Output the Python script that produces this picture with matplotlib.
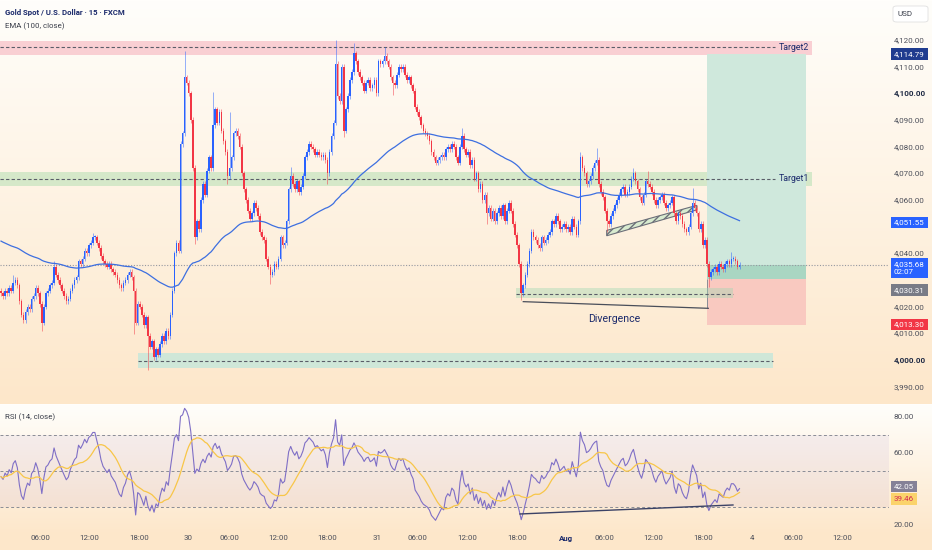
import numpy as np
import pandas as pd
import matplotlib
matplotlib.use("Agg")
import matplotlib.pyplot as plt
import matplotlib.transforms as mtransforms
from matplotlib.patches import Rectangle, Polygon, FancyBboxPatch

plt.rcParams['font.family'] = ['Roboto', 'DejaVu Sans']

# ---- price data (15 min closes) ----
closes = [
    4025, 4024, 4026, 4025, 4027, 4026, 4029, 4030, 4028, 4022,
    4017, 4015, 4018, 4020, 4019, 4023, 4024, 4027, 4025, 4021,
    4014, 4020, 4025, 4026, 4028, 4029, 4035, 4032, 4030, 4028,
    4026, 4024, 4022, 4023, 4026, 4028, 4030, 4031, 4037, 4036,
    4038, 4041, 4040, 4043, 4044, 4046, 4046, 4044, 4042, 4039,
    4037, 4036, 4035, 4036, 4034, 4033, 4032, 4030, 4028, 4027,
    4029, 4030, 4032, 4033, 4031, 4026, 4014, 4021, 4020, 4017,
    4013, 4016, 4009, 4005, 4007, 4001, 4004, 4002, 4006, 4009,
    4007, 4011, 4009, 4017, 4026, 4040, 4044, 4041, 4081, 4085,
    4106, 4104, 4100, 4090, 4072, 4046, 4052, 4049, 4060, 4066,
    4062, 4071, 4076, 4072, 4088, 4094, 4089, 4093, 4086, 4082,
    4078, 4069, 4072, 4076, 4085, 4086, 4084, 4080,
    4070, 4064, 4060, 4056, 4053, 4055, 4059, 4057, 4054, 4048, 4046, 4045,
    4038, 4035, 4032, 4033, 4036, 4035, 4038, 4046, 4043, 4044,
    4052, 4064, 4069, 4066, 4064, 4067, 4063, 4065, 4069, 4076,
    4078, 4081, 4080, 4079, 4077, 4078, 4077, 4076, 4077, 4075,
    4070, 4078, 4084, 4089, 4111, 4099, 4097, 4110, 4086, 4094,
    4099, 4105, 4108, 4115, 4112, 4108, 4106, 4104, 4101, 4104,
    4105, 4102, 4103, 4105, 4100, 4112, 4111, 4112, 4114, 4112,
    4110, 4106, 4104, 4103, 4107, 4110, 4109, 4110, 4107, 4105,
    4106, 4103, 4101, 4095, 4093, 4091, 4088, 4086, 4085, 4084,
    4082, 4078, 4076, 4074, 4075, 4076, 4077, 4076, 4079, 4080,
    4079, 4081, 4080, 4076, 4074, 4080, 4084, 4079, 4077, 4078,
    4073, 4075, 4068, 4070, 4064, 4066, 4060, 4062, 4055, 4057,
    4053, 4056, 4052, 4055, 4057, 4054, 4058, 4052, 4056, 4059,
    4056, 4051, 4047, 4043, 4036, 4025, 4028, 4032, 4036, 4041,
    4048, 4046, 4045, 4043, 4042, 4046, 4044, 4045, 4047, 4048,
    4052, 4051, 4054, 4052, 4049, 4050, 4051, 4049, 4050, 4048,
    4053, 4050, 4047, 4052, 4076, 4072, 4070, 4066, 4067, 4069,
    4072, 4074, 4075, 4066, 4063, 4061, 4056, 4052, 4051, 4054,
    4056, 4058, 4060, 4062, 4064, 4065, 4062, 4063, 4065, 4068,
    4070, 4067, 4064, 4061, 4059, 4062, 4067, 4066, 4065, 4063,
    4060, 4058, 4060, 4061, 4062, 4059, 4057, 4058, 4059, 4061,
    4055, 4052, 4055, 4054, 4051, 4049, 4048, 4050, 4055, 4059,
    4057, 4055, 4049, 4051, 4043, 4045, 4036, 4031, 4033, 4034,
    4035, 4033, 4036, 4035, 4034, 4036, 4037, 4036, 4038, 4038, 4037, 4035, 4035.68,
]
first_open = 4026.0
# long wicks seen on the chart (bar -> price)
high_spikes = {6: 4032, 26: 4037, 45: 4047.5, 90: 4116, 104: 4100.5, 112: 4093,
               142: 4072.5, 164: 4120, 173: 4118.8, 188: 4117.5, 226: 4086.9,
               284: 4078, 292: 4079.4, 310: 4072, 317: 4071, 339: 4064.4, 358: 4040.6}
low_spikes = {20: 4011, 65: 4009.8, 72: 3996.2, 88: 4040, 95: 4043.5, 111: 4066,
              132: 4028.7, 160: 4066, 168: 4083.7, 192: 4099.4, 238: 4051,
              255: 4022.5, 297: 4048, 347: 4027.5}
ema_seed = 4045.0
rsi_seed_gain, rsi_seed_loss = 1.1, 1.25

# ---- axis labels ----
price_ticks = [3990, 4000, 4010, 4020, 4040, 4060, 4070, 4080, 4090, 4100, 4110, 4120]
rsi_ticks = [20, 60, 80]
time_labels = ['06:00', '12:00', '18:00', '30', '06:00', '12:00', '18:00', '31', '06:00',
               '12:00', '18:00', 'Aug', '06:00', '12:00', '18:00', '4', '06:00', '12:00']
time_pos = [19.1, 43.3, 67.6, 91.8, 112.2, 136.1, 160.1, 184.2, 204.3,
            228.3, 252.8, 276.8, 295.6, 319.7, 344.3, 368.3, 388.4, 412.2]

# ---- drawings ----
target2_zone, target2_level = (4114.4, 4119.8), 4117.3
target1_zone, target1_level = (4065.4, 4070.6), 4068.0
support_zone, support_level, support_x = (3997.1, 4002.8), 3999.8, (67.2, 378.4)
demand_zone, demand_level, demand_x = (4023.1, 4026.9), 4024.8, (252.5, 358.8)
entry, take_profit, stop_loss, last_price = 4030.31, 4114.79, 4013.30, 4035.68
position_x = (346.1, 394.6)
channel_x = (296.9, 341.0)
channel_low, channel_high = (4046.6, 4056.3), (4048.6, 4058.0)
div_price = ((256.0, 4021.9), (346.7, 4019.4))
div_rsi = ((254.4, 26.1), (358.8, 31.1))
ema_last, rsi_last, rsi_ma_last = 4051.55, 42.05, 39.46

UP, DOWN = '#2962ff', '#f23645'
NAVY = '#1b2a6b'
TXT = '#4c4f5a'

W, H = 932, 550
fig = plt.figure(figsize=(W / 100, H / 100), dpi=100)

# background gradient (white -> peach in each pane)
top_c = np.array([255, 254, 251]) / 255
bot_c = np.array([253, 231, 202]) / 255
col = np.zeros((H, 1, 3))
for r in range(H):
    if r < 404:
        t = r / 403
    else:
        t = min((r - 404) / 130, 1.0)
    col[r, 0] = top_c + (bot_c - top_c) * t
bg = fig.add_axes([0, 0, 1, 1], zorder=-10)
bg.imshow(col, aspect='auto', extent=[0, 1, 0, 1])
bg.axis('off')

def rect(x0, y0, w, h):
    return [x0 / W, 1 - (y0 + h) / H, w / W, h / H]

ax = fig.add_axes(rect(0, 0, 889, 403))
axr = fig.add_axes(rect(0, 404, 889, 126))
for a in (ax, axr):
    a.set_facecolor('none')
    for s in a.spines.values():
        s.set_visible(False)
    a.set_xlim(-0.5, 889 / 2.04 - 0.5)
ax.set_ylim(3983.9, 4135.0)
axr.set_ylim(17.2, 87.2)
ax.set_xticks([])
ax.set_yticks([])
axr.set_yticks([])
axr.set_xticks(time_pos)
axr.set_xticklabels(time_labels)
axr.tick_params(axis='x', length=0, pad=3.5, labelsize=5.7, labelcolor=TXT)
for lab in axr.get_xticklabels():
    if lab.get_text() == 'Aug':
        lab.set_fontweight('bold')
        lab.set_color(NAVY)

# ---- candles ----
c = np.array(closes, dtype=float)
n = len(c)
o = np.concatenate([[first_open], c[:-1]])
hi = np.maximum(o, c) + 1.0
lo = np.minimum(o, c) - 1.0
for k, v in high_spikes.items():
    hi[k] = max(hi[k], v)
for k, v in low_spikes.items():
    lo[k] = min(lo[k], v)
x = np.arange(n)
up = c >= o
colors = np.where(up, UP, DOWN)
ax.vlines(x, lo, hi, colors=colors, lw=0.7, alpha=0.5, zorder=4)
body = np.maximum(np.abs(c - o), 0.4)
ax.bar(x, body, bottom=np.minimum(o, c), width=0.78, color=colors, lw=0, zorder=5)

# EMA 100
ema = pd.Series(np.concatenate([[ema_seed], c])).ewm(span=100, adjust=False).mean().values[1:]
ax.plot(x, ema, color='#3d6fe0', lw=0.9, zorder=6)

# ---- zones ----
xmax = 397.5
ax.add_patch(Rectangle((-0.5, target2_zone[0]), xmax + 0.5, target2_zone[1] - target2_zone[0],
                       fc='#f9cfd3', ec='none', zorder=1))
ax.add_patch(Rectangle((-0.5, target1_zone[0]), xmax + 0.5, target1_zone[1] - target1_zone[0],
                       fc='#d5e8c9', ec='none', zorder=1))
ax.hlines([target2_level, target1_level], -0.5, 379.4, colors='#5a5d68', lw=0.8,
          linestyles=(0, (3, 2)), zorder=2)
ax.text(381, target2_level, 'Target2', fontsize=6.3, color=NAVY, va='center', ha='left', zorder=3)
ax.text(381, target1_level, 'Target1', fontsize=6.3, color=NAVY, va='center', ha='left', zorder=3)

ax.add_patch(Rectangle((support_x[0], support_zone[0]), support_x[1] - support_x[0],
                       support_zone[1] - support_zone[0], fc='#cfe7d8', ec='none', zorder=1))
ax.hlines(support_level, support_x[0], support_x[1], colors='#5a5d68', lw=0.8,
          linestyles=(0, (3, 2)), zorder=2)

# long position tool
px0, px1 = position_x
ax.add_patch(Rectangle((px0, entry), px1 - px0, take_profit - entry, fc='#cfe8dc', ec='none', zorder=1))
ax.add_patch(Rectangle((px0, entry), px1 - px0, last_price - entry, fc='#a9d6c2', ec='none', zorder=1))
ax.add_patch(Rectangle((px0, stop_loss), px1 - px0, entry - stop_loss, fc='#f9c9c0', ec='none', zorder=1))
ax.vlines(px0, div_price[1][1], entry, colors='#8a8d96', lw=0.7, zorder=2)

ax.add_patch(Rectangle((demand_x[0], demand_zone[0]), demand_x[1] - demand_x[0],
                       demand_zone[1] - demand_zone[0], fc='#9ed7b3', alpha=0.4, ec='none', zorder=2))
ax.hlines(demand_level, demand_x[0], demand_x[1], colors='#5a5d68', lw=0.8,
          linestyles=(0, (3, 2)), zorder=3)

# rising channel
poly = [(channel_x[0], channel_low[0]), (channel_x[1], channel_low[1]),
        (channel_x[1], channel_high[1]), (channel_x[0], channel_high[0])]
ax.add_patch(Polygon(poly, closed=True, fc='#d8ebcf', ec='#6b6e78', lw=0.8, hatch='////', zorder=3))

# divergence line + label
ax.plot([div_price[0][0], div_price[1][0]], [div_price[0][1], div_price[1][1]],
        color='#4a4e5a', lw=0.9, zorder=3)
ax.text(300.5, 4015.4, 'Divergence', fontsize=7.6, color=NAVY, ha='center', va='center', zorder=3)

# current price line
ax.axhline(last_price, color='#9598a1', lw=0.8, ls=(0, (1, 1.5)), zorder=2)

# ---- price axis labels ----
trans = mtransforms.blended_transform_factory(ax.transAxes, ax.transData)
lx = 894 / 889
for v in price_ticks:
    bold = v in (4000, 4100)
    ax.text(lx, v, f"{v:,.2f}", transform=trans, fontsize=5.8, ha='left', va='center',
            color='#1f2a44' if bold else TXT, fontweight='bold' if bold else 'normal', clip_on=False)

def box(a, tr, yv, s, fc, tc='white', ls=1.2):
    a.text(lx, yv, s, transform=tr, fontsize=5.8, ha='left', va='center', color=tc,
           linespacing=ls, clip_on=False, zorder=20,
           bbox=dict(boxstyle='square,pad=0.35', fc=fc, ec='none'))

box(ax, trans, take_profit, f"{take_profit:,.2f}", '#1f3c8f')
box(ax, trans, ema_last, f"{ema_last:,.2f}", '#2962ff')
box(ax, trans, last_price - 1.1, f"{last_price:,.2f}\n02:07", '#2962ff', ls=1.45)
box(ax, trans, entry - 4.0, f"{entry:,.2f}", '#787b86')
box(ax, trans, stop_loss, f"{stop_loss:,.2f}", '#f23645')

# ---- RSI ----
d = np.diff(c)
g = np.zeros(n)
l = np.zeros(n)
g[0], l[0] = rsi_seed_gain, rsi_seed_loss
for i in range(1, n):
    g[i] = (g[i - 1] * 13 + max(d[i - 1], 0)) / 14
    l[i] = (l[i - 1] * 13 + max(-d[i - 1], 0)) / 14
rsi = 100 - 100 / (1 + g / l)
rsi_ma = pd.Series(rsi).rolling(14, min_periods=1).mean().values

axr.axhspan(30, 70, color='#7e57c2', alpha=0.07, lw=0, zorder=1)
axr.hlines([70, 50, 30], -0.5, 889 / 2.04 - 0.5, colors='#8a8d96', lw=0.7,
           linestyles=(0, (3, 2.5)), zorder=2)
axr.plot(x, rsi, color='#7f6fc6', lw=0.8, zorder=4)
axr.plot(x, rsi_ma, color='#f8c648', lw=0.9, zorder=5)
axr.plot([div_rsi[0][0], div_rsi[1][0]], [div_rsi[0][1], div_rsi[1][1]], color='#3b4266', lw=1.0, zorder=6)

transr = mtransforms.blended_transform_factory(axr.transAxes, axr.transData)
for v in rsi_ticks:
    axr.text(lx, v, f"{v:.2f}", transform=transr, fontsize=5.8, ha='left', va='center',
             color=TXT, clip_on=False)
box(axr, transr, 41.3, f"{rsi_last:.2f}", '#858197')
box(axr, transr, 34.4, f"{rsi_ma_last:.2f}", '#fbd36b', tc='#d42a52')

# ---- header texts ----
fig.text(5 / W, 1 - 12.7 / H, 'Gold Spot / U.S. Dollar · 15 · FXCM', fontsize=5.6,
         fontweight='bold', color=NAVY, va='center', ha='left')
fig.text(5 / W, 1 - 26 / H, 'EMA (100, close)', fontsize=5.7, color='#3b3f4b', va='center', ha='left')
fig.text(5 / W, 1 - 417 / H, 'RSI (14, close)', fontsize=5.7, color='#3b3f4b', va='center', ha='left')

usd = FancyBboxPatch((893 / W, 1 - 22 / H), 35 / W, 16 / H, boxstyle='round,pad=0,rounding_size=0.004',
                     transform=fig.transFigure, fc='white', ec='#e0e0e0', lw=0.6)
fig.patches.append(usd)
fig.text(898 / W, 1 - 13.5 / H, 'USD', fontsize=5.8, color='#3b3f4b', va='center', ha='left')

fig.savefig('out.png', dpi=100)
